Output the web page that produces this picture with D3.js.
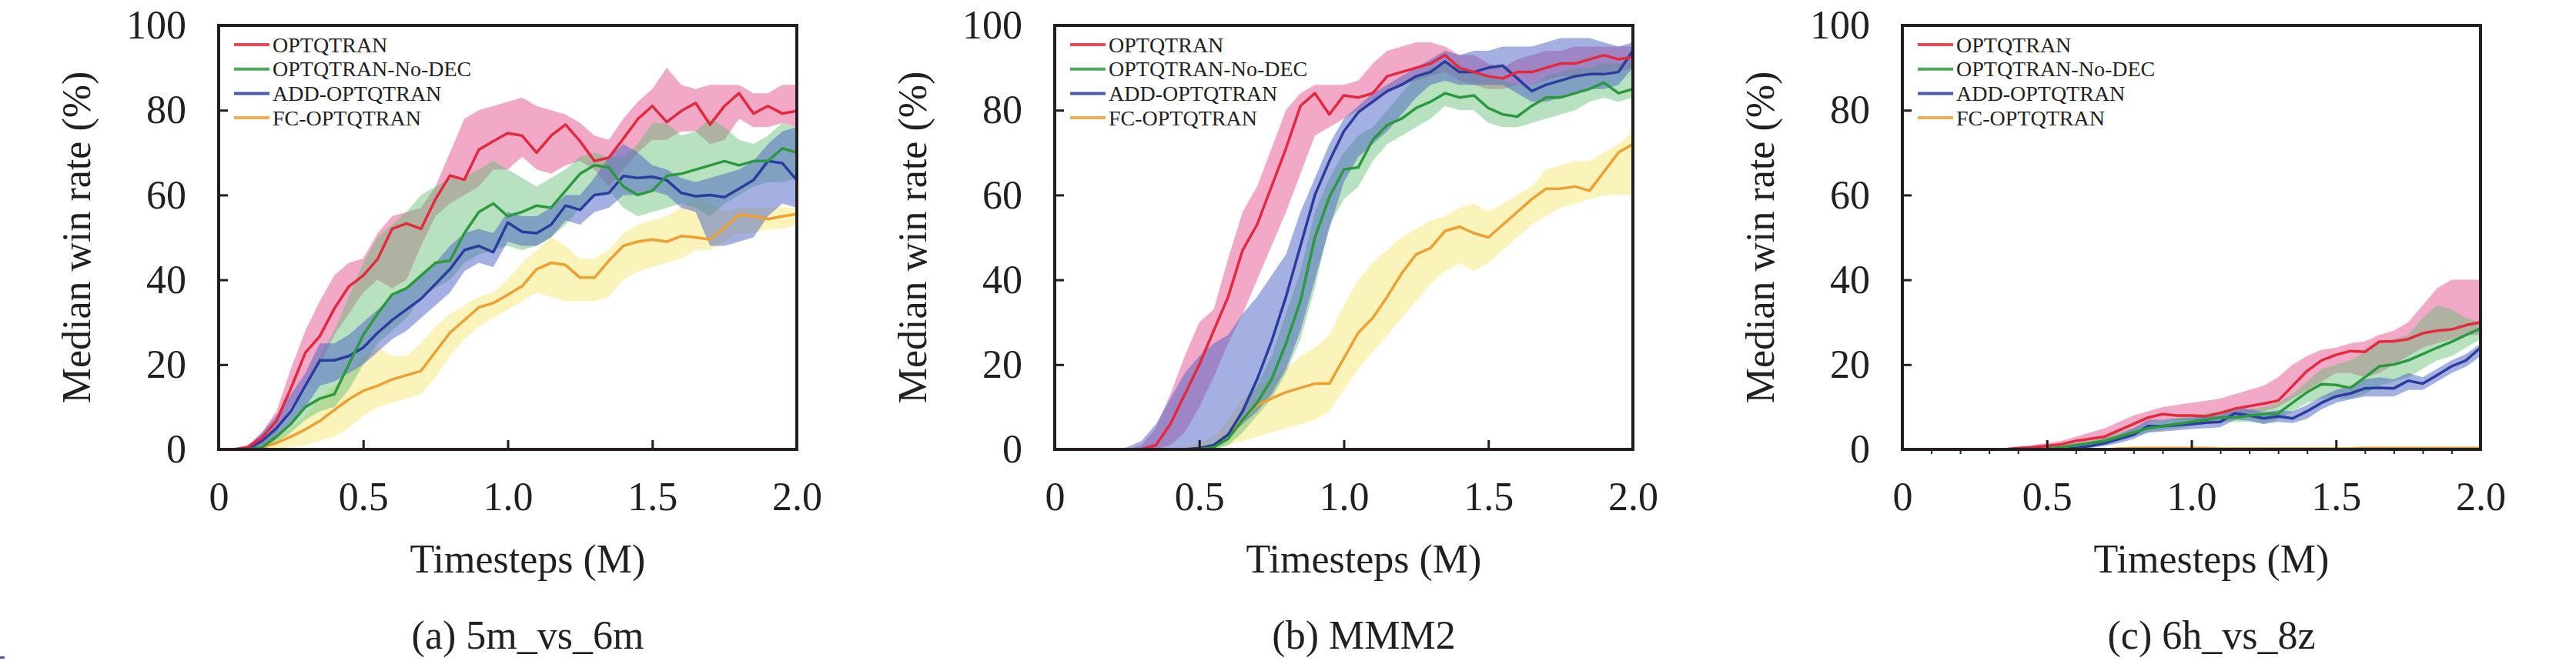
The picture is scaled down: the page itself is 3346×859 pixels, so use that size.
<!DOCTYPE html>
<html>
<head>
<meta charset="utf-8">
<script src="https://cdn.jsdelivr.net/npm/d3@7"></script>
<style>
	body { margin: 0; background: #fff; }
	svg { display: block; }
	text { font-family: "Liberation Serif", "Times New Roman", serif; fill: #231f20; }
</style>
</head>
<body>
<div id="container"></div>
<script>
// x grid (M timesteps)
const timesteps = [0, 0.05, 0.1, 0.15, 0.2, 0.25, 0.3, 0.35, 0.4, 0.45, 0.5, 0.55, 0.6, 0.65, 0.7, 0.75, 0.8, 0.85, 0.9, 0.95,
	1.0, 1.05, 1.1, 1.15, 1.2, 1.25, 1.3, 1.35, 1.4, 1.45, 1.5, 1.55, 1.6, 1.65, 1.7, 1.75, 1.8, 1.85, 1.9, 1.95, 2.0];

const seriesNames = ["OPTQTRAN", "OPTQTRAN-No-DEC", "ADD-OPTQTRAN", "FC-OPTQTRAN"];
const captions = ["(a) 5m_vs_6m", "(b) MMM2", "(c) 6h_vs_8z"];
const xTicks = [0, 0.5, 1.0, 1.5, 2.0];
const xTickLabels = ["0", "0.5", "1.0", "1.5", "2.0"];
const xMinorTicks = [0.1, 0.2, 0.3, 0.4, 0.6, 0.7, 0.8, 0.9, 1.1, 1.2, 1.3, 1.4, 1.6, 1.7, 1.8, 1.9];
const yTicks = [0, 20, 40, 60, 80, 100];

// (a) 5m_vs_6m
const a_opt = [0, 0, 0.5, 2.8, 6.7, 14.4, 22.8, 26.7, 33.2, 38.4, 41, 44.9, 52, 53.3, 52, 59, 64.6, 63.6, 70.7, 72.7, 74.6, 74, 70, 74, 76.6, 72.7, 68, 68.8, 73.3, 77.9, 81, 77.2, 79.8, 81.7, 76.6, 81, 84, 79.2, 81, 79.2, 79.8];
const a_opt_lo = [0, 0, 0, 1, 4, 10, 15, 20, 27, 32, 37, 40, 38, 40, 48, 55, 58, 60, 62, 66, 66, 69, 66, 65, 67, 68, 66, 62, 66, 70, 73, 73, 75, 75, 72, 73, 78, 76, 76, 77, 76];
const a_opt_hi = [0, 0, 1, 4, 9, 19, 28, 35, 41, 44, 45, 51, 55, 56, 57, 62, 70, 78, 80, 81, 82, 83, 81, 80, 79, 77, 74, 73, 78, 82, 85, 90, 86, 85, 86, 86, 86, 84, 84, 86, 86];
const a_nodec = [0, 0, 0, 0.5, 3, 6, 10, 12, 13, 20, 27, 32, 36.5, 38, 41, 44, 44.5, 51, 56, 58, 55, 56, 57.5, 57, 61, 65, 67, 66.5, 62, 60, 61, 64.5, 65, 66, 67, 68, 67, 68, 68, 71, 70];
const a_nodec_lo = [0, 0, 0, 0, 1.5, 4, 7, 9, 10, 14, 20, 25, 28, 31, 36, 38, 40, 44, 46, 47, 48, 47, 48, 50, 53, 57, 60, 61, 57, 55, 56, 57, 58, 57, 55, 58, 60, 62, 63, 63, 64];
const a_nodec_hi = [0, 0, 0, 1.5, 5, 9, 14, 22, 28, 36, 44, 50, 53, 56, 60, 62, 64, 64, 66, 68, 66, 64, 62, 64, 66, 69, 70, 69, 69, 72, 77, 77, 74, 75, 78, 76, 73, 72, 74, 77, 76];
const a_add = [0, 0, 0, 2, 5, 9, 15, 21, 21, 22, 24, 27.5, 30.5, 33, 35.5, 39, 42.5, 47, 48, 46.5, 53.5, 51.3, 51, 53, 57.5, 56.5, 60, 60.5, 64.5, 64, 64.3, 63.5, 60.5, 59.7, 60, 59.5, 61.5, 63.5, 68, 67.5, 63.5];
const a_add_lo = [0, 0, 0, 1, 3, 6, 10, 15, 16, 18, 20, 23, 26, 28, 31, 34, 37, 42, 44, 43, 49, 48, 48, 50, 54, 53, 56, 57, 60, 60, 61, 60, 57, 56, 48, 48, 49, 50, 55, 58, 57];
const a_add_hi = [0, 0, 0.5, 4, 8, 13, 18, 25, 25, 27, 30, 33, 36, 38, 41, 44, 48, 51, 52, 51, 56, 55, 55, 57, 60, 60, 64, 69, 72, 70, 67, 66, 64, 63, 64, 65, 66, 68, 72, 75, 76];
const a_fc = [0, 0, 0, 0.5, 1.5, 3, 4.7, 6.7, 9.3, 11.8, 13.8, 15, 16.5, 17.5, 18.5, 23, 27.5, 30.5, 33.5, 34.5, 36.5, 38.5, 42.5, 44, 43.5, 40.5, 40.5, 44.5, 48, 49, 49.5, 49, 50.3, 50, 49.5, 52.3, 55.3, 55, 54.3, 55, 55.5];
const a_fc_lo = [0, 0, 0, 0, 0, 0.5, 1, 2, 3, 5, 8, 10, 11, 12, 13, 17, 22, 26, 29, 31, 33, 35, 37, 36, 35, 35, 35, 36, 40, 42, 43, 44, 45, 47, 47, 49, 51, 51, 52, 52, 53];
const a_fc_hi = [0, 0, 0, 1, 3, 5, 8, 12, 15, 18, 22, 24, 22, 22, 25, 29, 32, 34, 36, 37, 40, 44, 47, 50, 48, 45, 45, 47, 51, 53, 54, 55, 57, 60, 58, 56, 57, 57, 57, 57, 57];

// (b) MMM2
const b_opt = [0, 0, 0, 0, 0, 0, 0, 1, 6, 13, 20, 28, 36, 47, 53, 62, 71, 81, 84, 79, 83.5, 83, 84, 88, 89, 90, 91, 93, 90, 89, 88, 87.5, 89, 89, 90, 91, 91, 92, 93, 92, 92.5];
const b_opt_lo = [0, 0, 0, 0, 0, 0, 0, 0, 1, 4, 10, 17, 25, 32, 40, 48, 56, 65, 74, 76, 78, 80, 82, 84, 86, 87, 88, 89, 87, 86, 85, 85, 86, 86, 87, 88, 88, 88, 89, 89, 90];
const b_opt_hi = [0, 0, 0, 0, 0, 0, 1, 5, 13, 22, 30, 33, 45, 56, 62, 71, 80, 84, 86, 86, 86, 87, 91, 94, 95, 96, 96, 95, 93, 93, 91, 90, 92, 93, 94, 94, 95, 95, 95, 95, 95];
const b_nodec = [0, 0, 0, 0, 0, 0, 0, 0, 0, 0, 0, 0.5, 2.5, 7, 11, 16.5, 25, 35, 50, 59.5, 66, 66.5, 73, 76.5, 78, 80.5, 82, 84, 83, 83.5, 80.5, 79, 78.5, 81, 83, 83, 84, 85, 86.5, 84, 85];
const b_nodec_lo = [0, 0, 0, 0, 0, 0, 0, 0, 0, 0, 0, 0, 1, 4, 8, 12, 18, 26, 38, 53, 59, 62, 68, 72, 74, 76, 78, 81, 80, 80, 77, 76, 76, 77, 78, 79, 80, 82, 83, 82, 83];
const b_nodec_hi = [0, 0, 0, 0, 0, 0, 0, 0, 0, 0, 0, 1, 4, 10, 15, 22, 32, 42, 56, 64, 70, 74, 76, 80, 84, 88, 90, 91, 90, 89, 88, 87, 86, 86, 88, 89, 90, 90, 91, 91, 92];
const b_add = [0, 0, 0, 0, 0, 0, 0, 0, 0, 0, 0.3, 1, 3.5, 9, 16.5, 25.5, 36, 48, 60, 68, 75, 79.5, 82, 84.5, 86, 88, 89, 91.5, 89, 89, 90, 90.5, 87.5, 84.5, 86, 87, 88, 88.5, 88.5, 89, 94];
const b_add_lo = [0, 0, 0, 0, 0, 0, 0, 0, 0, 0, 0, 1, 3, 6, 9, 13, 19, 28, 40, 52, 63, 69, 72, 75, 79, 83, 86, 87, 86, 86, 86, 86, 84, 82, 82, 83, 84, 85, 85, 86, 90];
const b_add_hi = [0, 0, 0, 0, 0, 0.5, 2, 6, 12, 18, 22, 25, 27, 32, 36, 41, 46, 56, 64, 72, 78, 81, 84, 86, 88, 90, 92, 94, 93, 94, 94, 95, 95, 95, 96, 97, 97, 97, 96, 95, 96];
const b_fc = [0, 0, 0, 0, 0, 0, 0, 0, 0, 0, 0.3, 1, 3.5, 7, 10.5, 12, 13.5, 14.5, 15.5, 15.5, 21.5, 27.5, 31, 36, 41.5, 46, 47.5, 51.5, 52.5, 51, 50, 53, 56, 59, 61.5, 61.5, 62, 61, 65.5, 70, 72];
const b_fc_lo = [0, 0, 0, 0, 0, 0, 0, 0, 0, 0, 0, 0, 1, 2, 3, 4, 5, 6, 7, 9, 14, 19, 23, 27, 31, 35, 39, 42, 44, 42, 44, 47, 50, 53, 55, 57, 58, 59, 60, 60, 60];
const b_fc_hi = [0, 0, 0, 0, 0, 0, 0, 0, 0, 0.5, 1.5, 3, 7, 12, 15, 17, 19, 22, 24, 27, 34, 40, 44, 47, 50, 52, 54, 55, 57, 58, 56, 58, 60, 62, 66, 67, 68, 68, 70, 72, 75];

// (c) 6h_vs_8z
const c_opt = [0, 0, 0, 0, 0, 0, 0, 0, 0.3, 0.5, 0.8, 1.2, 2, 2.5, 3, 4.5, 6, 7.5, 8.3, 8, 8, 7.8, 8.6, 9.6, 10.2, 10.8, 11.5, 15, 18.5, 21, 22.3, 23.2, 23, 25.4, 25.5, 26, 27.4, 28, 28.3, 29.3, 30];
const c_opt_lo = [0, 0, 0, 0, 0, 0, 0, 0, 0, 0.1, 0.3, 0.5, 1, 1.5, 2, 3, 4.5, 6, 7, 7, 7, 7, 7.5, 8, 8.5, 9, 10, 12, 14, 16, 18, 18, 17, 18, 20, 22, 24, 25, 26, 27, 27];
const c_opt_hi = [0, 0, 0, 0, 0, 0, 0, 0.2, 0.5, 1, 1.5, 2, 3, 4, 5, 6.5, 8, 9, 10, 10.5, 11, 11.5, 12, 13, 14, 15, 17, 20, 22, 23.5, 24, 25, 25.5, 27, 28, 30, 34, 38, 40, 40, 40];
const c_nodec = [0, 0, 0, 0, 0, 0, 0, 0, 0, 0, 0.2, 0.5, 1, 1.5, 2, 3, 4, 5, 5.5, 6, 6.5, 7, 7.5, 7.5, 8, 8.3, 8.5, 11, 13.5, 15.4, 15.2, 14.5, 17, 19.6, 20, 21, 22.5, 24, 25.4, 27, 28.5];
const c_nodec_lo = [0, 0, 0, 0, 0, 0, 0, 0, 0, 0, 0, 0, 0.5, 0.8, 1, 2, 3, 4, 4.5, 5, 5.5, 6, 6.5, 6.5, 6.5, 6, 7, 9, 11, 12, 12, 12, 13, 15, 16, 17, 19, 21, 22, 24, 26];
const c_nodec_hi = [0, 0, 0, 0, 0, 0, 0, 0, 0, 0, 0.5, 1, 1.5, 2, 3, 4, 5, 6, 7, 7.5, 8, 8.5, 9, 9, 9.5, 10, 11, 13, 16, 19, 20, 21, 23, 25, 26, 27, 31, 34, 33, 31, 30];
const c_add = [0, 0, 0, 0, 0, 0, 0, 0, 0, 0, 0, 0.1, 0.3, 0.8, 1.5, 2.5, 3.5, 5.5, 5.5, 5.7, 6, 6.3, 6.5, 8.5, 8, 7.3, 7.8, 7.3, 9, 11, 12.5, 13.2, 14.4, 14.5, 14.4, 16.2, 15.5, 17.5, 19.6, 21, 24];
const c_add_lo = [0, 0, 0, 0, 0, 0, 0, 0, 0, 0, 0, 0, 0, 0.3, 0.8, 1.5, 2.5, 4, 4.2, 4.5, 4.8, 5, 5.2, 7, 6.8, 6, 6.5, 6.2, 7.2, 9.5, 11, 11.8, 12.5, 12.5, 12.5, 14, 14, 16, 18, 19.5, 22];
const c_add_hi = [0, 0, 0, 0, 0, 0, 0, 0, 0, 0, 0, 0.3, 0.8, 1.5, 2.5, 3.5, 5, 7, 7, 7.2, 7.5, 7.8, 8, 10, 9.5, 8.8, 9.2, 9, 10.5, 12.5, 14, 15, 16.5, 17, 16.5, 18, 17, 19, 21, 22.5, 25];
const c_fc = [0, 0, 0, 0, 0, 0, 0, 0, 0, 0, 0, 0, 0, 0, 0, 0.2, 0.3, 0.3, 0.3, 0.3, 0.3, 0.3, 0.2, 0.2, 0.2, 0.2, 0.2, 0.2, 0.2, 0.2, 0.2, 0.2, 0.3, 0.3, 0.3, 0.3, 0.3, 0.3, 0.3, 0.3, 0.3];
const c_fc_lo = [0, 0, 0, 0, 0, 0, 0, 0, 0, 0, 0, 0, 0, 0, 0, 0, 0, 0, 0, 0, 0, 0, 0, 0, 0, 0, 0, 0, 0, 0, 0, 0, 0, 0, 0, 0, 0, 0, 0, 0, 0];
const c_fc_hi = [0, 0, 0, 0, 0, 0, 0, 0, 0, 0, 0, 0, 0, 0, 0, 0.6, 0.6, 0.6, 0.6, 0.6, 0.6, 0.6, 0.6, 0.6, 0.6, 0.6, 0.6, 0.6, 0.6, 0.6, 0.6, 0.6, 0.6, 0.6, 0.6, 0.6, 0.6, 0.6, 0.6, 0.6, 0.6];

// looks
const lineColors = ["#e5283c", "#2b9a3e", "#2a3d9f", "#f0a030"];
const bandColors = ["#e24085", "#5fbc71", "#4a62c4", "#f2e25a"];
const bandOpacity = [0.45, 0.45, 0.5, 0.42];

const width = 3346;
const height = 859;
const plotLefts = [284, 1370, 2471];
const plotTop = 33;
const plotW = 751;
const plotH = 551;

const panels = [
	{ caption: captions[0], med: [a_opt, a_nodec, a_add, a_fc], lo: [a_opt_lo, a_nodec_lo, a_add_lo, a_fc_lo], hi: [a_opt_hi, a_nodec_hi, a_add_hi, a_fc_hi], minor: false },
	{ caption: captions[1], med: [b_opt, b_nodec, b_add, b_fc], lo: [b_opt_lo, b_nodec_lo, b_add_lo, b_fc_lo], hi: [b_opt_hi, b_nodec_hi, b_add_hi, b_fc_hi], minor: false },
	{ caption: captions[2], med: [c_opt, c_nodec, c_add, c_fc], lo: [c_opt_lo, c_nodec_lo, c_add_lo, c_fc_lo], hi: [c_opt_hi, c_nodec_hi, c_add_hi, c_fc_hi], minor: true },
];

const svg = d3
	.select("#container")
	.append("svg")
	.attr("width", width)
	.attr("height", height);

svg.append("rect").attr("width", width).attr("height", height).attr("fill", "#fff");

panels.forEach((p, k) => drawPanel(p, k));

// small stray mark bottom-left of the page
svg.append("rect").attr("x", 0).attr("y", 853).attr("width", 6).attr("height", 3).attr("fill", "#4a55b0");

function drawPanel(p, k) {
	const left = plotLefts[k];
	const x = d3.scaleLinear().domain([0, 2]).range([left, left + plotW]);
	const y = d3.scaleLinear().domain([0, 100]).range([plotTop + plotH, plotTop]);

	const g = svg.append("g").attr("class", `panel-${k}`);

	g.append("clipPath")
		.attr("id", `clip-${k}`)
		.append("rect")
		.attr("x", left)
		.attr("y", plotTop)
		.attr("width", plotW)
		.attr("height", plotH);

	const plot = g.append("g").attr("clip-path", `url(#clip-${k})`);

	// bands: FC first, then the others
	const bandOrder = [3, 0, 1, 2];
	bandOrder.forEach((s) => {
		const area = d3
			.area()
			.x((d, i) => x(timesteps[i]))
			.y0((d, i) => y(p.lo[s][i]))
			.y1((d, i) => y(p.hi[s][i]));
		plot.append("path")
			.attr("d", area(p.med[s]))
			.attr("fill", bandColors[s])
			.attr("fill-opacity", bandOpacity[s])
			.attr("stroke", "none");
	});

	const lineOrder = [3, 2, 1, 0];
	lineOrder.forEach((s) => {
		const line = d3
			.line()
			.x((d, i) => x(timesteps[i]))
			.y((d) => y(d));
		plot.append("path")
			.attr("d", line(p.med[s]))
			.attr("fill", "none")
			.attr("stroke", lineColors[s])
			.attr("stroke-width", 3.5)
			.attr("stroke-linejoin", "round");
	});

	// axes with inward ticks
	const xAxis = d3
		.axisBottom(x)
		.tickValues(xTicks)
		.tickFormat((d, i) => xTickLabels[i])
		.tickSizeInner(-12)
		.tickSizeOuter(0)
		.tickPadding(42);
	const gx = g.append("g").attr("transform", `translate(0, ${plotTop + plotH})`).call(xAxis);
	styleAxis(gx);

	if (p.minor) {
		const minorAxis = d3.axisBottom(x).tickValues(xMinorTicks).tickFormat("").tickSizeInner(6).tickSizeOuter(0);
		const gm = g.append("g").attr("transform", `translate(0, ${plotTop + plotH})`).call(minorAxis);
		gm.select(".domain").remove();
		gm.selectAll(".tick line").attr("stroke", "#231f20").attr("stroke-width", 2);
	}

	const yAxis = d3
		.axisLeft(y)
		.tickValues(yTicks)
		.tickSizeInner(-12)
		.tickSizeOuter(0)
		.tickPadding(42);
	const gy = g.append("g").attr("transform", `translate(${left}, 0)`).call(yAxis);
	styleAxis(gy);

	// frame
	g.append("rect")
		.attr("x", left)
		.attr("y", plotTop)
		.attr("width", plotW)
		.attr("height", plotH)
		.attr("fill", "none")
		.attr("stroke", "#231f20")
		.attr("stroke-width", 4);

	// legend
	const legend = g.append("g").attr("class", "legend");
	seriesNames.forEach((name, i) => {
		const ly = plotTop + 25 + i * 31.7;
		legend.append("line")
			.attr("x1", left + 20)
			.attr("x2", left + 66)
			.attr("y1", ly)
			.attr("y2", ly)
			.attr("stroke", lineColors[i])
			.attr("stroke-opacity", 0.85)
			.attr("stroke-width", 4);
		legend.append("text")
			.attr("x", left + 70)
			.attr("y", ly)
			.attr("dominant-baseline", "central")
			.style("font-size", "28px")
			.text(name);
	});

	const cx = left + plotW / 2 + 26;

	g.append("text")
		.attr("transform", `translate(${left - 167}, ${plotTop + plotH / 2}) rotate(-90)`)
		.attr("text-anchor", "middle")
		.style("font-size", "52px")
		.text("Median win rate (%)");

	g.append("text")
		.attr("x", cx)
		.attr("y", 744)
		.attr("text-anchor", "middle")
		.style("font-size", "52px")
		.text("Timesteps (M)");

	g.append("text")
		.attr("x", cx)
		.attr("y", 843)
		.attr("text-anchor", "middle")
		.style("font-size", "52px")
		.text(p.caption);
}

function styleAxis(sel) {
	sel.select(".domain").remove();
	sel.selectAll(".tick line").attr("stroke", "#231f20").attr("stroke-width", 3);
	sel.selectAll(".tick text").style("font-size", "52px");
}
</script>
</body>
</html>
